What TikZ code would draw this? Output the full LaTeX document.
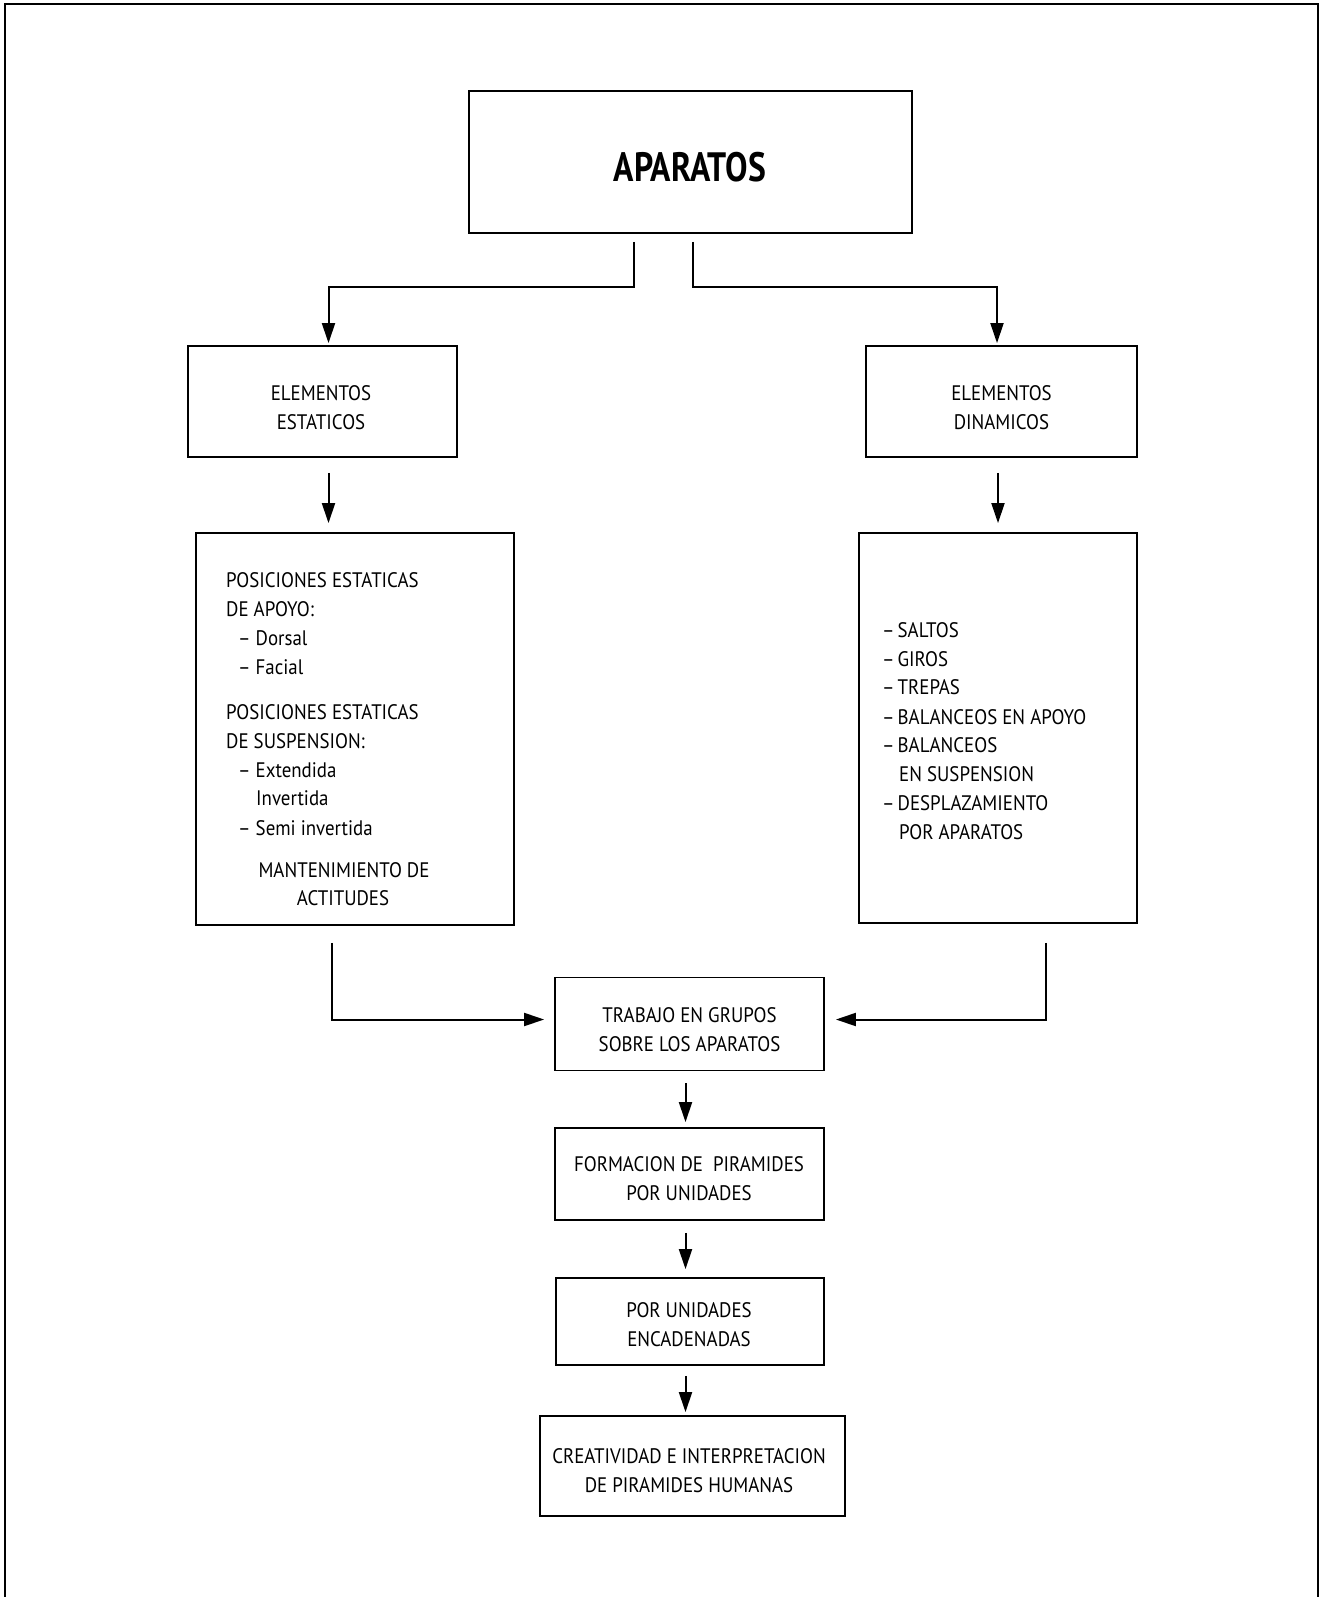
\documentclass[tikz,border=0pt]{standalone}
\usepackage{fontspec}
\setmainfont{PT Sans}[FakeStretch=0.9]
\newfontfamily\titlefont{PT Sans}[FakeStretch=0.82]
\usetikzlibrary{arrows.meta,calc}
\begin{document}
\begin{tikzpicture}[x=1pt,y=-1pt,
  box/.style={draw,line width=1.8pt,inner sep=0pt},
  txt/.style={inner sep=0pt,align=center,font=\fontsize{21}{29}\selectfont},
  ltxt/.style={inner sep=0pt,anchor=base west,font=\fontsize{21}{29}\selectfont},
  ctxt/.style={inner sep=0pt,anchor=base,font=\fontsize{21}{29}\selectfont},
  arr/.style={line width=2pt,-{Triangle[length=20pt,width=13pt]}},
  frame/.style={line width=2pt}]
\useasboundingbox (0,0) rectangle (1321,1597);
% outer frame
\coordinate (fbl) at (5,1597);
\coordinate (ftl) at (5,4);
\coordinate (ftr) at (1318,4);
\coordinate (fbr) at (1318,1597);
\draw[frame] (fbl) -- (ftl) -- (ftr) -- (fbr);
% boxes
\node[box,minimum width=443pt,minimum height=142pt] (apar) at (690.5,162) {};
\node[box,minimum width=269pt,minimum height=111pt] (est) at (322.5,401.5) {};
\node[box,minimum width=271pt,minimum height=111pt] (din) at (1001.5,401.5) {};
\node[box,minimum width=318pt,minimum height=392pt] (bigL) at (355,729) {};
\node[box,minimum width=278pt,minimum height=390pt] (bigR) at (998,728) {};
\node[box,minimum width=269pt,minimum height=93pt] (trab) at (689.5,1024) {};
\node[box,minimum width=269pt,minimum height=92pt] (form) at (689.5,1174) {};
\node[box,minimum width=268pt,minimum height=87pt] (pu) at (690,1321.5) {};
\node[box,minimum width=305pt,minimum height=100pt] (crea) at (692.5,1466) {};
% texts
\node[inner sep=0pt,font=\titlefont\fontsize{41}{41}\bfseries\selectfont] (aparT) at (690,167) {APARATOS};
\node[txt] (estT) at (321,407.5) {ELEMENTOS\\ESTATICOS};
\node[txt] (dinT) at (1001.5,407.5) {ELEMENTOS\\DINAMICOS};
\node[txt] (trabT) at (689.5,1029.5) {TRABAJO EN GRUPOS\\SOBRE LOS APARATOS};
\node[txt] (formT) at (689,1178.5) {FORMACION DE\ \ PIRAMIDES\\POR UNIDADES};
\node[txt] (puT) at (689,1325) {POR UNIDADES\\ENCADENADAS};
\node[txt] (creaT) at (689,1471) {CREATIVIDAD E INTERPRETACION\\DE PIRAMIDES HUMANAS};
% left list
\node[ltxt] (l1) at (226,587) {POSICIONES ESTATICAS};
\node[ltxt] (l2) at (226,616) {DE APOYO:};
\node[ltxt] (l3) at (238,645.5) {– Dorsal};
\node[ltxt] (l4) at (238,674) {– Facial};
\node[ltxt] (l5) at (226,719) {POSICIONES ESTATICAS};
\node[ltxt] (l6) at (226,748.5) {DE SUSPENSION:};
\node[ltxt] (l7) at (238,777) {– Extendida};
\node[ltxt] (l8) at (256,805.5) {Invertida};
\node[ltxt] (l9) at (238,835) {– Semi invertida};
\node[ctxt] (l10) at (344,877) {MANTENIMIENTO DE};
\node[ctxt] (l11) at (343,905) {ACTITUDES};
% right list
\node[ltxt] (r1) at (882,637.5) {–\hspace{3pt}SALTOS};
\node[ltxt] (r2) at (882,666) {–\hspace{3pt}GIROS};
\node[ltxt] (r3) at (882,694.5) {–\hspace{3pt}TREPAS};
\node[ltxt] (r4) at (882,724) {–\hspace{3pt}BALANCEOS EN APOYO};
\node[ltxt] (r5) at (882,752.5) {–\hspace{3pt}BALANCEOS};
\node[ltxt] (r6) at (899,781) {EN SUSPENSION};
\node[ltxt] (r7) at (882,810.5) {–\hspace{3pt}DESPLAZAMIENTO};
\node[ltxt] (r8) at (899,839) {POR APARATOS};
% connectors
\draw[arr] ($(apar.south)+(-57,8)$) |- ($(est.north)+(6,-58)$) -- ($(est.north)+(6,-2)$);
\draw[arr] ($(apar.south)+(2,8)$) |- ($(din.north)+(-4.5,-58)$) -- ($(din.north)+(-4.5,-2)$);
\draw[arr] ($(est.south)+(6,15)$) -- ($(est.south |- bigL.north)+(6,-9)$);
\draw[arr] ($(din.south)+(-3.5,15)$) -- ($(din.south |- bigR.north)+(-3.5,-9)$);
\draw[arr] ($(bigL.south)+(-23,17)$) |- ($(trab.west)+(-10,-4.5)$);
\draw[arr] ($(bigR.south)+(48,19)$) |- ($(trab.east)+(11,-4.5)$);
\draw[arr] ($(trab.south)+(-4,12)$) -- ($(trab.south |- form.north)+(-4,-5)$);
\draw[arr] ($(form.south)+(-4,12)$) -- ($(form.south |- pu.north)+(-4,-8)$);
\draw[arr] ($(pu.south)+(-4.5,10)$) -- ($(pu.south |- crea.north)+(-4.5,-3)$);
\end{tikzpicture}
\end{document}
